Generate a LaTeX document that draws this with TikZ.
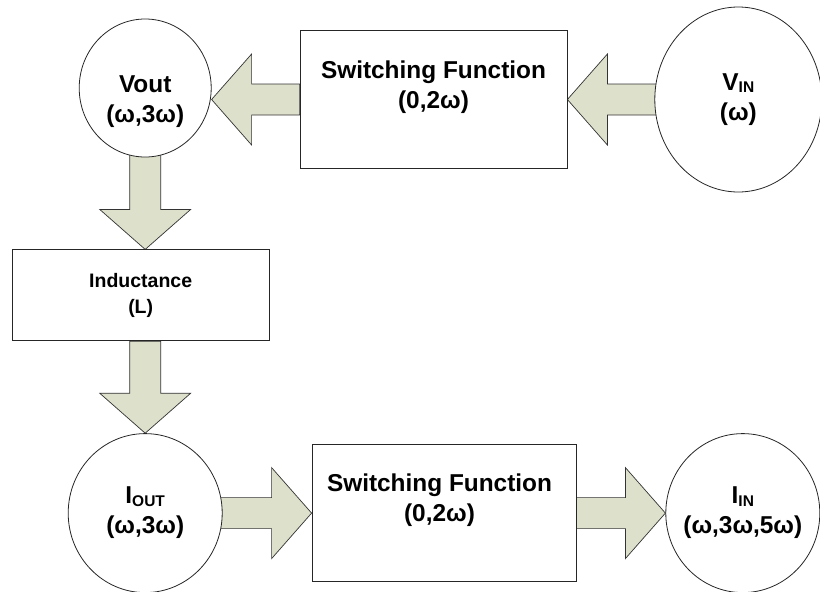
\documentclass[tikz,border=0pt]{standalone}
\usepackage{fontspec}
\setmainfont{Liberation Sans}
\usepackage{xcolor}
\usepackage{tikz}
\usetikzlibrary{shapes.geometric, positioning, calc}
\definecolor{arrowfill}{HTML}{DDE0CB}
\pgfdeclarelayer{background}
\pgfsetlayers{background,main}

\newcommand{\lowsub}[1]{\raisebox{-2.5pt}{\fontsize{15.5}{16}\selectfont #1}}

\begin{document}
\begin{tikzpicture}[
        font=\bfseries\fontsize{24.4}{30}\selectfont,
        block/.style={rectangle, draw=black!85, line width=0.8pt, fill=white, inner sep=0pt},
        ring/.style={ellipse, draw=black!85, line width=0.8pt, fill=white, align=center, inner sep=-12pt},
        txt/.style={align=center, inner sep=0pt},
        fatarrow/.style={draw=black!80, fill=arrowfill, line width=0.7pt, line join=miter,
            to path={
                ($(\tikztostart)!15.5pt!90:(\tikztotarget)$)
                -- ($(\tikztotarget)!40pt!(\tikztostart)!15.5pt!-90:(\tikztostart)$)
                -- ($(\tikztotarget)!40pt!(\tikztostart)!45.5pt!-90:(\tikztostart)$)
                -- (\tikztotarget)
                -- ($(\tikztotarget)!40pt!(\tikztostart)!45.5pt!90:(\tikztostart)$)
                -- ($(\tikztotarget)!40pt!(\tikztostart)!15.5pt!90:(\tikztostart)$)
                -- ($(\tikztostart)!15.5pt!-90:(\tikztotarget)$)
                -- cycle}}
    ]
        \useasboundingbox (0,0) rectangle (820pt,-592pt);

        % upper row: voltage side
        \node[block, minimum width=267pt, minimum height=138pt,
              label={[txt, name=sf1txt, yshift=12.5pt]center:{Switching Function\\(0,2ω)}}] (sf1) at (433.5pt,-99.5pt) {};
        \node[ring, minimum width=167pt, minimum height=185pt, right=87pt of sf1] (vin) {V\lowsub{IN}\\(ω)};
        \node[ring, minimum width=132pt, minimum height=138pt, left=88pt of sf1, yshift=11.5pt,
              label={[txt, name=vouttxt, yshift=-14pt]center:{Vout\\(ω,3ω)}}] (vout) {};

        % left column
        \node[block, minimum width=257pt, minimum height=91pt, below=92pt of vout, xshift=-4.5pt,
              align=center, font=\bfseries\fontsize{19.5}{26}\selectfont] (ind) {Inductance\\(L)};

        % lower row: current side
        \node[ring, minimum width=154pt, minimum height=159pt, below=92pt of ind, xshift=4.5pt] (iout) {I\lowsub{OUT}\\(ω,3ω)};
        \node[block, minimum width=264pt, minimum height=137pt, right=89pt of iout,
              label={[txt, name=sf2txt, xshift=-4.5pt, yshift=12.5pt]center:{Switching Function\\(0,2ω)}}] (sf2) {};
        \node[ring, minimum width=154pt, minimum height=159pt, right=89pt of sf2] (iin) {I\lowsub{IN}\\(ω,3ω,5ω)};

        \coordinate (vouthit) at (vout.east |- sf1.west);
        \coordinate (indtop) at (vout.south |- ind.north);
        \coordinate (indbot) at (iout.north |- ind.south);

        \begin{pgfonlayer}{background}
            \draw[fatarrow] (vin.center) to (sf1.east);
            \draw[fatarrow] (sf1.west) to (vouthit);
            \draw[fatarrow] (vout.center) to (indtop);
            \draw[fatarrow] (indbot) to (iout.north);
            \draw[fatarrow] (iout.center) to (sf2.west);
            \draw[fatarrow] (sf2.east) to (iin.west);
        \end{pgfonlayer}
    \end{tikzpicture}
\end{document}
